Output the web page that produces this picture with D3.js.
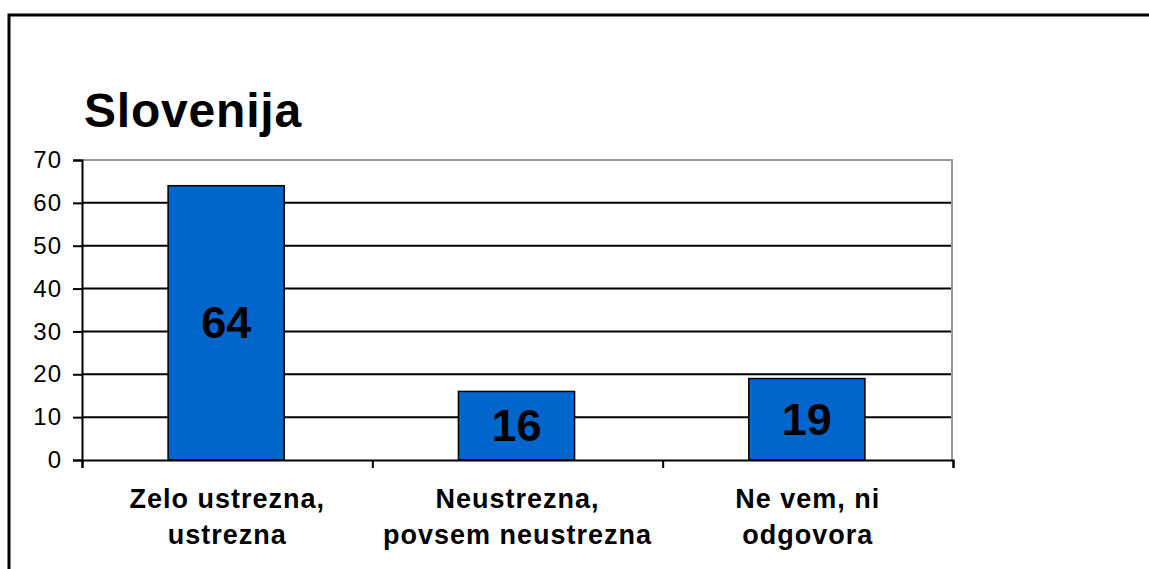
<!DOCTYPE html>
<html>
<head>
<meta charset="utf-8">
<script src="https://cdn.jsdelivr.net/npm/d3@7"></script>
<style>
	body { margin: 0; background: #ffffff; }
	text { font-family: "Liberation Sans", Arial, sans-serif; }
</style>
</head>
<body>
<script>
var title = "Slovenija";
var categories = ["Zelo ustrezna, ustrezna", "Neustrezna, povsem neustrezna", "Ne vem, ni odgovora"];
var categoryLines = [["Zelo ustrezna,", "ustrezna"], ["Neustrezna,", "povsem neustrezna"], ["Ne vem, ni", "odgovora"]];
var values = [64, 16, 19];
var yTicks = [0, 10, 20, 30, 40, 50, 60, 70];

var width = 1149;
var height = 569;
// plot area edges (note: "top" is taken by window.top)
var plotLeft = 82, plotRight = 953, plotTop = 160, plotBottom = 460;

var svg = d3.select("body").append("svg")
	.attr("width", width)
	.attr("height", height);

svg.append("rect")
	.attr("width", width)
	.attr("height", height)
	.attr("fill", "#ffffff");

// outer frame, runs off the right and bottom edge
svg.append("rect")
	.attr("x", 9)
	.attr("y", 15)
	.attr("width", 1300)
	.attr("height", 700)
	.attr("fill", "none")
	.attr("stroke", "#000000")
	.attr("stroke-width", 3);

svg.append("text")
	.attr("x", 84)
	.attr("y", 127)
	.attr("font-size", 48)
	.attr("font-weight", "bold")
	.attr("letter-spacing", 0.8)
	.text(title);

var x = d3.scaleBand()
	.domain(categories)
	.range([plotLeft, plotRight])
	.padding(0);

var y = d3.scaleLinear()
	.domain([0, 70])
	.range([plotBottom, plotTop]);

// grid lines
svg.append("g")
	.selectAll("line")
	.data(yTicks.filter(function(d) { return d > 0 && d < 70; }))
	.enter().append("line")
	.attr("x1", plotLeft)
	.attr("x2", plotRight - 1)
	.attr("y1", function(d) { return y(d); })
	.attr("y2", function(d) { return y(d); })
	.attr("stroke", "#000000")
	.attr("stroke-width", 2);

// grey top and right border of plot area
svg.append("path")
	.attr("d", "M" + plotLeft + "," + y(70) + "H" + (plotRight - 1) + "V" + plotBottom)
	.attr("fill", "none")
	.attr("stroke", "#999999")
	.attr("stroke-width", 2);

var bw = x.bandwidth();

svg.append("g")
	.selectAll("rect")
	.data(values)
	.enter().append("rect")
	.attr("x", function(d, i) { return x(categories[i]) + bw * 0.3 - 1; })
	.attr("width", bw * 0.4)
	.attr("y", function(d) { return y(d); })
	.attr("height", function(d) { return y(0) - y(d); })
	.attr("fill", "#0066CC")
	.attr("stroke", "#000000")
	.attr("stroke-width", 1.5);

svg.append("g")
	.selectAll("text")
	.data(values)
	.enter().append("text")
	.attr("x", function(d, i) { return x(categories[i]) + bw / 2 - 1; })
	.attr("y", function(d) { return (y(d) + y(0)) / 2; })
	.attr("text-anchor", "middle")
	.attr("dominant-baseline", "central")
	.attr("font-size", 45)
	.attr("font-weight", "bold")
	.text(function(d) { return d; });

// y axis
var yAxis = svg.append("g")
	.attr("transform", "translate(" + plotLeft + ",0)")
	.call(d3.axisLeft(y).tickValues(yTicks).tickSize(9).tickPadding(11));
yAxis.select(".domain").attr("stroke", "#000000").attr("stroke-width", 2);
yAxis.selectAll(".tick line").attr("stroke", "#000000").attr("stroke-width", 2);
yAxis.selectAll(".tick text")
	.attr("font-size", 24)
	.attr("letter-spacing", 1)
	.attr("font-family", "'Liberation Sans', Arial, sans-serif")
	.attr("fill", "#000000");

// x axis, ticks on category boundaries
var xb = d3.scaleLinear().domain([0, categories.length]).range([plotLeft, plotRight]);
var xAxis = svg.append("g")
	.attr("transform", "translate(0," + plotBottom + ")")
	.call(d3.axisBottom(xb).tickValues(d3.range(categories.length + 1)).tickSize(8).tickFormat(""));
xAxis.select(".domain").attr("stroke", "#000000").attr("stroke-width", 2);
xAxis.selectAll(".tick line").attr("stroke", "#000000").attr("stroke-width", 2);

var labels = svg.append("g")
	.selectAll("text")
	.data(categories)
	.enter().append("text")
	.attr("x", function(d) { return x(d) + bw / 2; })
	.attr("y", 508)
	.attr("text-anchor", "middle")
	.attr("font-size", 27)
	.attr("font-weight", "bold")
	.attr("letter-spacing", 1);

labels.each(function(d, i) {
	var t = d3.select(this);
	categoryLines[i].forEach(function(line, j) {
		t.append("tspan")
			.attr("x", x(d) + bw / 2)
			.attr("dy", j === 0 ? 0 : 36)
			.text(line);
	});
});
</script>
</body>
</html>
